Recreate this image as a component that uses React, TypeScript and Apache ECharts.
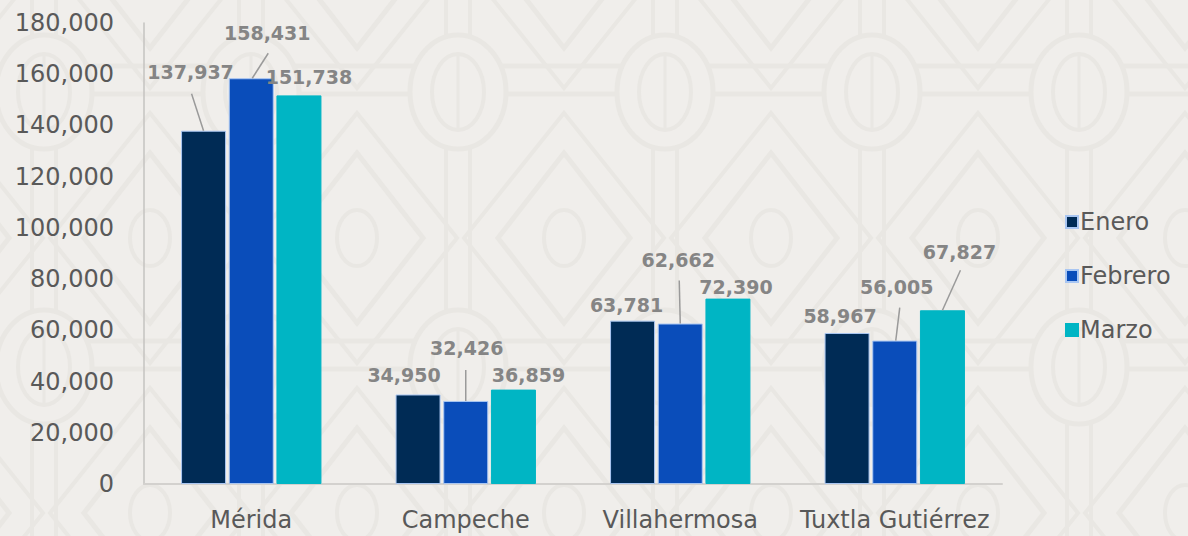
import React, { useEffect, useRef } from "react";
import * as echarts from "echarts";

const categories = ["Mérida", "Campeche", "Villahermosa", "Tuxtla Gutiérrez"];
const enero = [137937, 34950, 63781, 58967];
const febrero = [158431, 32426, 62662, 56005];
const marzo = [151738, 36859, 72390, 67827];
const seriesNames = ["Enero", "Febrero", "Marzo"];

// label offsets (style only): [seriesIndex][dataIndex] -> [dx, dy]
const labelOffsets: number[][][] = [
  [[-13, -45], [-14, -6], [-6, -2], [-7, -3]],
  [[16, -32], [1, -39], [-2, -50], [2, -40]],
  [[10, -5], [15, -1], [8, 2], [17, -45]],
];
// leader lines (style only): [series, category, x0, y0, x1, y1] relative to bar top centre
const leaders: number[][] = [
  [0, 0, 0, 0, -12, -37],
  [1, 0, 1, 0, 17, -25],
  [1, 1, 0, 0, 0, -31],
  [1, 2, 0, 0, -1, -43],
  [1, 3, 1, 0, 5, -33],
  [2, 3, 0, 0, 18, -40],
];

const colors = ["#002b55", "#0a4dba", "#00b5c4"];
const borders = ["#a9c6f2", "#a9c6f2", "#00b5c4"];
const BAR_W = 45;
const BAR_GAP = 0.06;

const BG = "#f0eeeb";
const PAT = "#e9e7e3";

function buildPattern() {
  const els: any[] = [];
  const base = { silent: true, z: -10 };
  for (let m = -1; m <= 2; m++) {
    const by = 92 + 275 * m;
    els.push({ type: "line", ...base, shape: { x1: 0, y1: by - 26, x2: 1188, y2: by - 26 }, style: { stroke: PAT, lineWidth: 5 } });
    els.push({ type: "line", ...base, shape: { x1: 0, y1: by + 2, x2: 1188, y2: by + 2 }, style: { stroke: PAT, lineWidth: 5 } });
  }
  for (let k = -3; k <= 4; k++) {
    for (let m = -1; m <= 2; m++) {
      const cx = 458 + 207 * k;
      const cy = 92 + 275 * m;
      els.push({ type: "line", ...base, shape: { x1: cx - 12, y1: cy + 57, x2: cx - 12, y2: cy + 218 }, style: { stroke: PAT, lineWidth: 4 } });
      els.push({ type: "line", ...base, shape: { x1: cx + 12, y1: cy + 57, x2: cx + 12, y2: cy + 218 }, style: { stroke: PAT, lineWidth: 4 } });
      els.push({ type: "ellipse", ...base, shape: { cx, cy, rx: 48, ry: 57 }, style: { fill: BG, stroke: PAT, lineWidth: 5 } });
      els.push({ type: "ellipse", ...base, shape: { cx, cy, rx: 26, ry: 38 }, style: { fill: "none", stroke: PAT, lineWidth: 4 } });
      els.push({ type: "line", ...base, shape: { x1: cx, y1: cy - 38, x2: cx, y2: cy + 38 }, style: { stroke: PAT, lineWidth: 3 } });
      const dx = cx - 101;
      const dy = cy + 146;
      els.push({ type: "polygon", ...base, shape: { points: [[dx, dy - 85], [dx + 66, dy], [dx, dy + 85], [dx - 66, dy]] }, style: { fill: "none", stroke: PAT, lineWidth: 5 } });
      els.push({ type: "polygon", ...base, shape: { points: [[dx, dy - 125], [dx + 100, dy], [dx, dy + 125], [dx - 100, dy]] }, style: { fill: "none", stroke: PAT, lineWidth: 4 } });
      els.push({ type: "ellipse", ...base, shape: { cx: dx, cy: dy, rx: 20, ry: 28 }, style: { fill: "none", stroke: PAT, lineWidth: 4 } });
    }
  }
  return els;
}

export default function App() {
  const ref = useRef<HTMLDivElement>(null);
  useEffect(() => {
    if (!ref.current) return;
    const chart = echarts.init(ref.current, undefined, { renderer: "svg" });
    const allData = [enero, febrero, marzo];
    const font = "DejaVu Sans";
    const step = BAR_W * (1 + BAR_GAP);
    const leaderData = leaders.map((l, idx) => [l[1], allData[l[0]][l[1]], idx]);
    chart.setOption({
      animation: false,
      backgroundColor: BG,
      textStyle: { fontFamily: font },
      graphic: { elements: buildPattern() },
      grid: { left: 144, right: 186, top: 23, bottom: 52, containLabel: false },
      legend: {
        orient: "vertical",
        left: 1060,
        top: 205,
        itemWidth: 12,
        itemHeight: 12,
        itemGap: 30,
        icon: "rect",
        data: seriesNames,
        textStyle: { color: "#595959", fontSize: 24, fontFamily: font, padding: [0, 0, 0, -3] },
      },
      xAxis: {
        type: "category",
        data: categories,
        axisLine: { show: true, lineStyle: { color: "#d3d1ce", width: 2 } },
        axisTick: { show: false },
        axisLabel: { color: "#595959", fontSize: 24, fontFamily: font, margin: 24, interval: 0 },
      },
      yAxis: {
        type: "value",
        min: 0,
        max: 180000,
        interval: 20000,
        axisLine: { show: true, lineStyle: { color: "#c4c3c0", width: 1.5 } },
        axisTick: { show: false },
        splitLine: { show: false },
        axisLabel: {
          color: "#595959",
          fontSize: 24,
          fontFamily: font,
          margin: 30,
          formatter: (v: number) => v.toLocaleString("en-US"),
        },
      },
      series: [
        ...allData.map((vals, s) => ({
          name: seriesNames[s],
          type: "bar",
          barWidth: BAR_W,
          barGap: BAR_GAP * 100 + "%",
          itemStyle: { color: colors[s], borderColor: borders[s], borderWidth: 1 },
          data: vals,
          label: {
            show: true,
            position: "top",
            distance: 4,
            color: "#858585",
            fontSize: 19,
            fontWeight: "bold",
            fontFamily: font,
            formatter: (p: any) => Number(p.value).toLocaleString("en-US"),
          },
          labelLayout: (p: any) => {
            const o = labelOffsets[p.seriesIndex][p.dataIndex];
            return { dx: o[0], dy: o[1] };
          },
        })),
        {
          type: "custom",
          name: "leaders",
          silent: true,
          z: 5,
          encode: { x: 0, y: 1 },
          data: leaderData,
          renderItem: (params: any, api: any) => {
            const l = leaders[api.value(2)];
            const pt = api.coord([api.value(0), api.value(1)]);
            const bx = pt[0] + (l[0] - 1) * step;
            const by = pt[1];
            return {
              type: "line",
              shape: { x1: bx + l[2], y1: by + l[3], x2: bx + l[4], y2: by + l[5] },
              style: { stroke: "#9a9a9a", lineWidth: 1.5 },
            };
          },
        },
      ],
    });
    return () => chart.dispose();
  }, []);
  return <div ref={ref} style={{ width: 1188, height: 536, position: "absolute", left: 0, top: 0 }} />;
}
